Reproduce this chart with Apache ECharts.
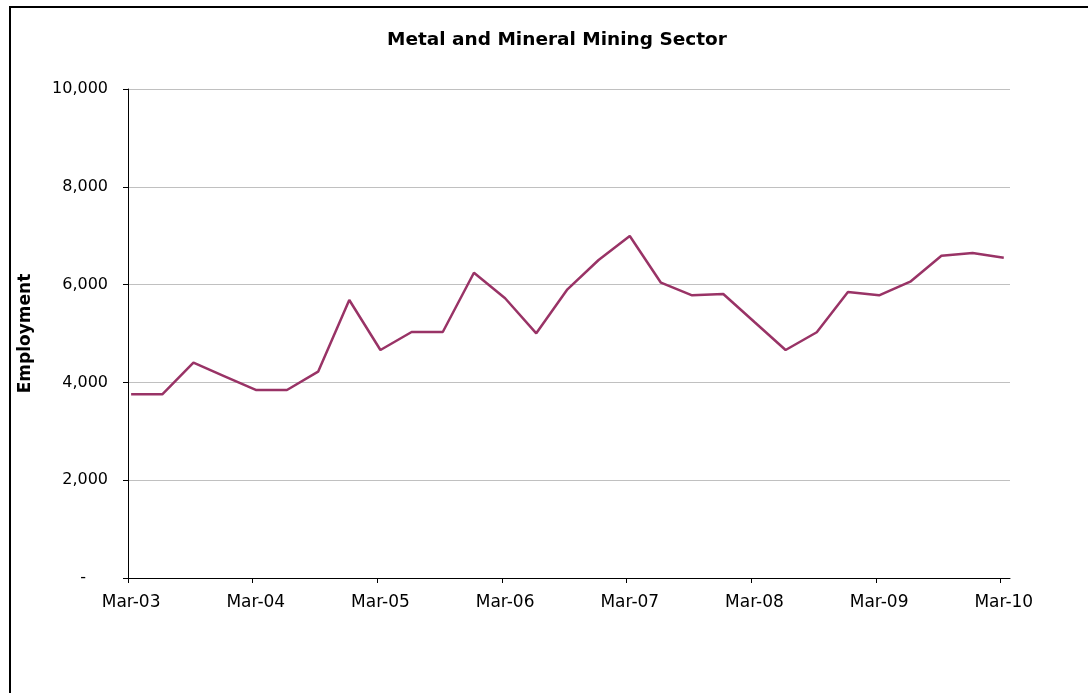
<!DOCTYPE html>
<html>
<head>
<meta charset="utf-8">
<script src="https://cdn.jsdelivr.net/npm/echarts@6/dist/echarts.min.js"></script>
<style>
html,body{margin:0;padding:0;background:#fff;}
#frame{position:absolute;left:9px;top:6px;width:1100px;height:700px;border-left:2px solid #000;border-top:2px solid #000;}
#chart{position:absolute;left:0;top:0;width:1088px;height:693px;}
</style>
</head>
<body>
<div id="frame"></div>
<div id="chart"></div>
<script>
// Quarterly employment, Mar-03 .. Mar-10
const quarterIndex = [0,1,2,3,4,5,6,7,8,9,10,11,12,13,14,15,16,17,18,19,20,21,22,23,24,25,26,27,28];
const employment = [3757,3757,4403,4125,3845,3845,4219,5685,4663,5031,5031,6243,5720,5004,5904,6503,6994,6039,5781,5808,5235,4663,5025,5849,5781,6059,6591,6646,6550];
const xTickLabels = ['Mar-03','Mar-04','Mar-05','Mar-06','Mar-07','Mar-08','Mar-09','Mar-10'];
const yTicks = [0,2000,4000,6000,8000,10000];

const font = 'DejaVu Sans, Verdana, sans-serif';
const tickVals = xTickLabels.map((_, i) => i * 4 - 0.1);
const labelVals = xTickLabels.map((_, i) => i * 4);

const chart = echarts.init(document.getElementById('chart'), null, {renderer:'canvas'});
chart.setOption({
  backgroundColor: 'transparent',
  animation: false,
  title: {
    text: 'Metal and Mineral Mining Sector',
    left: 552, top: 26, textAlign: 'center',
    textStyle: {fontFamily: font, fontSize: 18.5, fontWeight: 'bold', color: '#000'}
  },
  grid: {left: 128, top: 89, right: 78, bottom: 115, containLabel: false},
  xAxis: {
    type: 'value',
    min: -0.1, max: 28.2,
    axisLine: {show: true, onZero: false, lineStyle: {color: '#000', width: 1}},
    axisTick: {show: true, length: 5, lineStyle: {color: '#000'}, customValues: tickVals},
    splitLine: {show: false},
    axisLabel: {
      customValues: labelVals,
      margin: 16,
      fontFamily: font, fontSize: 17, color: '#000',
      formatter: v => xTickLabels[Math.round(v / 4)] || ''
    }
  },
  yAxis: {
    type: 'value',
    min: yTicks[0], max: yTicks[yTicks.length - 1], interval: 2000,
    name: 'Employment', nameLocation: 'middle', nameGap: 94, nameRotate: 90,
    nameTextStyle: {fontFamily: font, fontSize: 17, fontWeight: 'bold', color: '#000'},
    axisLine: {show: true, onZero: false, lineStyle: {color: '#000', width: 1}},
    axisTick: {show: true, length: 5, lineStyle: {color: '#000'}},
    splitLine: {show: true, lineStyle: {color: '#c0c0c0', width: 1}},
    axisLabel: {
      margin: 20,
      fontFamily: font, fontSize: 16, color: '#000',
      formatter: v => v === 0 ? '{z|-}' : v.toLocaleString('en-US'),
      rich: {z: {fontFamily: font, fontSize: 16, color: '#000', padding: [0, 22, 0, 0]}}
    }
  },
  series: [{
    type: 'line',
    data: quarterIndex.map((q, i) => [q, employment[i]]),
    symbol: 'none',
    lineStyle: {color: '#993366', width: 2.5},
    itemStyle: {color: '#993366'}
  }]
});
</script>
</body>
</html>
